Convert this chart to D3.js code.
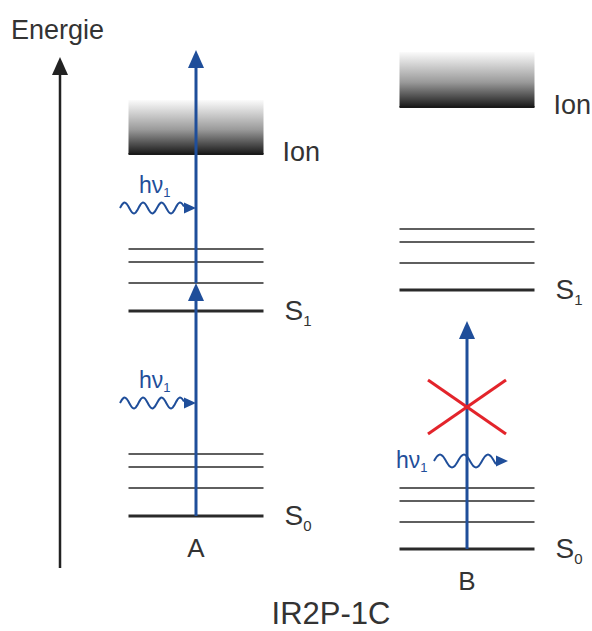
<!DOCTYPE html>
<html><head><meta charset="utf-8">
<script src="https://cdn.jsdelivr.net/npm/d3@7"></script>
<style>html,body{margin:0;padding:0;background:#fff;}svg{display:block;}</style>
</head><body>
<svg id="chart" width="592" height="631"></svg>
<script>
// ---- data (energy in arbitrary units) ----
const panels = ["A", "B"];
const s0Energy = [54, 21];
const s0Vib = [[82, 103, 116], [48, 69, 82]];
const s1Energy = [259, 280];
const s1Vib = [[287, 308, 321], [307, 328, 341]];
const ionBottom = [416, 463];
const ionTop = [470, 518];
// excitation arrows: [panel, from, to]
const excitations = [["A", 54, 287], ["A", 287, 520], ["B", 21, 249]];
// photons: [panel, energy, label, subscript]
const photons = [["A", 167, "hν", "1"], ["A", 362, "hν", "1"], ["B", 109, "hν", "1"]];
const blockedEnergy = 163;
const energyAxis = [2, 513];
const axisLabel = "Energie";
const title = "IR2P-1C";

const svg = d3.select("#chart");
const y = d3.scaleLinear().domain([0, 520]).range([570, 50]);
const x = d3.scalePoint().domain(panels).range([196, 467]);
const halfW = 67.5;
const txt = "#333";
const blue = "#1f4e9a";
const red = "#e3242b";
const font = "'Liberation Sans', Arial, sans-serif";

function arrowHead(g, cx, tipY, w, h, color) {
  g.append("path").attr("d", `M${cx},${tipY} L${cx - w / 2},${tipY + h} L${cx + w / 2},${tipY + h} Z`).attr("fill", color);
}

// energy axis
svg.append("line").attr("x1", 60).attr("x2", 60).attr("y1", y(energyAxis[0])).attr("y2", y(energyAxis[1]) + 12)
  .attr("stroke", "#222").attr("stroke-width", 2.5);
arrowHead(svg, 60, y(energyAxis[1]), 16, 18, "#222");
svg.append("text").attr("x", 11).attr("y", 39).attr("font-family", font).attr("font-size", 27)
  .attr("fill", txt).text(axisLabel);

// gradient
const defs = svg.append("defs");
const grad = defs.append("linearGradient").attr("id", "ionGrad").attr("x1", 0).attr("x2", 0).attr("y1", 0).attr("y2", 1);
grad.append("stop").attr("offset", "0%").attr("stop-color", "#fbfbfb");
grad.append("stop").attr("offset", "55%").attr("stop-color", "#9a9a9a");
grad.append("stop").attr("offset", "100%").attr("stop-color", "#1a1a1a");

panels.forEach((p, i) => {
  const cx = x(p);
  const g = svg.append("g");
  g.append("rect").attr("x", cx - halfW).attr("width", halfW * 2)
    .attr("y", y(ionTop[i])).attr("height", y(ionBottom[i]) - y(ionTop[i])).attr("fill", "url(#ionGrad)");
  g.append("line").attr("x1", cx - halfW).attr("x2", cx + halfW).attr("y1", y(ionBottom[i])).attr("y2", y(ionBottom[i]))
    .attr("stroke", "#1a1a1a").attr("stroke-width", 2);
  [[s0Energy[i], 3], [s1Energy[i], 3]].concat(s0Vib[i].map(e => [e, 1.5]), s1Vib[i].map(e => [e, 1.5])).forEach(([e, w]) => {
    g.append("line").attr("x1", cx - halfW).attr("x2", cx + halfW).attr("y1", y(e)).attr("y2", y(e))
      .attr("stroke", "#2a2a2a").attr("stroke-width", w);
  });
  const lx = cx + halfW + 21;
  g.append("text").attr("x", cx + halfW + 19).attr("y", y(ionBottom[i]) + 7).attr("font-family", font)
    .attr("font-size", 27).attr("fill", txt).text("Ion");
  [[s1Energy[i], "1"], [s0Energy[i], "0"]].forEach(([e, sub]) => {
    const t = g.append("text").attr("x", lx).attr("y", y(e) + 9).attr("font-family", font).attr("font-size", 28).attr("fill", txt);
    t.append("tspan").text("S");
    t.append("tspan").attr("font-size", 15).attr("dy", 6).text(sub);
  });
  g.append("text").attr("x", cx).attr("y", y(s0Energy[i]) + 41).attr("text-anchor", "middle").attr("font-family", font)
    .attr("font-size", 26).attr("fill", txt).text(p);
});

// excitation arrows
excitations.forEach(([p, from, to]) => {
  const cx = x(p);
  svg.append("line").attr("x1", cx).attr("x2", cx).attr("y1", y(from)).attr("y2", y(to) + 10)
    .attr("stroke", blue).attr("stroke-width", 3);
  arrowHead(svg, cx, y(to), 16, 18, blue);
});

// blocked cross
const bx = x("B"), by = y(blockedEnergy);
[[-39, -27, 39, 27], [-39, 27, 39, -27]].forEach(([a, b, c, d]) => {
  svg.append("line").attr("x1", bx + a).attr("y1", by + b).attr("x2", bx + c).attr("y2", by + d)
    .attr("stroke", red).attr("stroke-width", 3);
});

// photons
function wave(x0, x1, yy, period, amp) {
  const pts = [];
  for (let xx = x0; xx <= x1; xx += 1) pts.push([xx, yy - amp * Math.sin((xx - x0) / period * 2 * Math.PI)]);
  return d3.line().curve(d3.curveBasis)(pts);
}
photons.forEach(([p, e, lab, sub]) => {
  const yy = y(e);
  let x0, x1, tx, ty, per, amp;
  if (p === "A") { x0 = 120; x1 = 184; tx = 139; ty = yy - 15; per = 18.5; amp = 5.5; }
  else { x0 = 434; x1 = 496; tx = 396; ty = yy + 7; per = 24; amp = 6.5; }
  svg.append("path").attr("d", wave(x0, x1, yy, per, amp)).attr("fill", "none").attr("stroke", blue).attr("stroke-width", 2);
  svg.append("path").attr("d", `M${x1 + 12},${yy} L${x1},${yy - 5.5} L${x1},${yy + 5.5} Z`).attr("fill", blue);
  const t = svg.append("text").attr("x", tx).attr("y", ty).attr("font-family", font).attr("font-size", 23).attr("fill", blue);
  t.append("tspan").text(lab);
  t.append("tspan").attr("font-size", 13).attr("dy", 4).text(sub);
});

svg.append("text").attr("x", 331).attr("y", 624).attr("text-anchor", "middle").attr("font-family", font)
  .attr("font-size", 31).attr("fill", txt).text(title);
</script>
</body></html>
